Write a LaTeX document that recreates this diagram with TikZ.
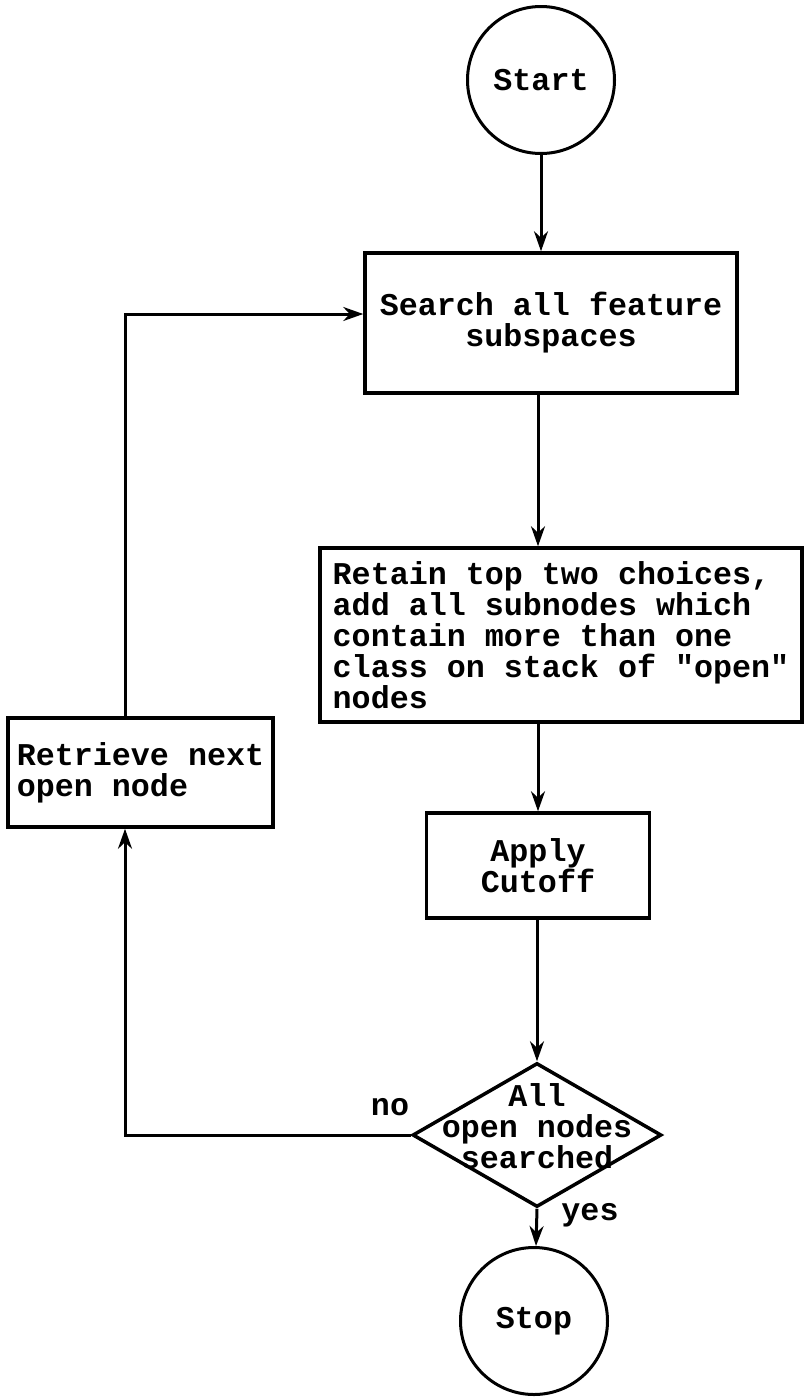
\documentclass[tikz,border=0pt]{standalone}
\usepackage{fontspec}
\setmonofont{Liberation Mono}
\usetikzlibrary{shapes.geometric,arrows.meta,calc}

\tikzset{
  chart/.style={font=\ttfamily\bfseries\fontsize{31.7pt}{31pt}\selectfont},
  terminal/.style={draw, circle, line width=3pt, inner sep=0pt, minimum size=147pt},
  process/.style={draw, rectangle, line width=3.5pt, inner xsep=3pt},
  decision/.style={draw, diamond, line width=3.5pt, inner sep=0pt, minimum width=249pt, minimum height=144pt},
  flow/.style={->, line width=3pt}
}

\begin{document}
\begin{tikzpicture}[x=1pt, y=-1pt, >={Stealth[length=20pt,width=14pt]}, chart]
  \useasboundingbox (0,0) rectangle (805,1398);
  % blocks
  \node[terminal] (start) at (541,80) {Start};
  \node[process, align=center, minimum width=372pt, minimum height=140pt] (search) at (551,323) {Search all feature\\subspaces};
  \node[process, align=left, minimum width=482pt, minimum height=174pt] (retain) at (561,635) {Retain top two choices,\\add all subnodes which\\contain more than one\\class on stack of "open"\\nodes};
  \node[process, align=center, minimum width=223pt, minimum height=105pt] (cutoff) at (538,865.5) {Apply\\Cutoff};
  \node[decision, label={[align=center, yshift=9pt]center:All\\open nodes\\searched}] (decide) at (537,1135) {};
  \node[terminal] (stop) at (534,1321) {Stop};
  \node[process, align=left, minimum width=265pt, minimum height=109pt] (retrieve) at (140.5,772.5) {Retrieve next\\open node};
  % loop corners
  \coordinate (loop) at (125,1135);
  \coordinate (entry) at ([yshift=9pt]search.west);
  % edges
  \draw[flow] (start) -- (start |- search.north);
  \draw[flow] (search.south -| cutoff) -- (retain.north -| cutoff);
  \draw[flow] (retain.south -| cutoff) -- (cutoff.north);
  \draw[flow] (cutoff.south -| decide) -- (decide.north);
  \draw[flow] (decide.south) -- (stop);
  \draw[flow] (decide.west) -- (loop) -- (loop |- retrieve.south);
  \draw[flow] (retrieve.north -| loop) -- (loop |- entry) -- (entry);
  % branch labels
  \node (no) at (390,1107) {no};
  \node (yes) at (590,1215) {yes};
\end{tikzpicture}
\end{document}
